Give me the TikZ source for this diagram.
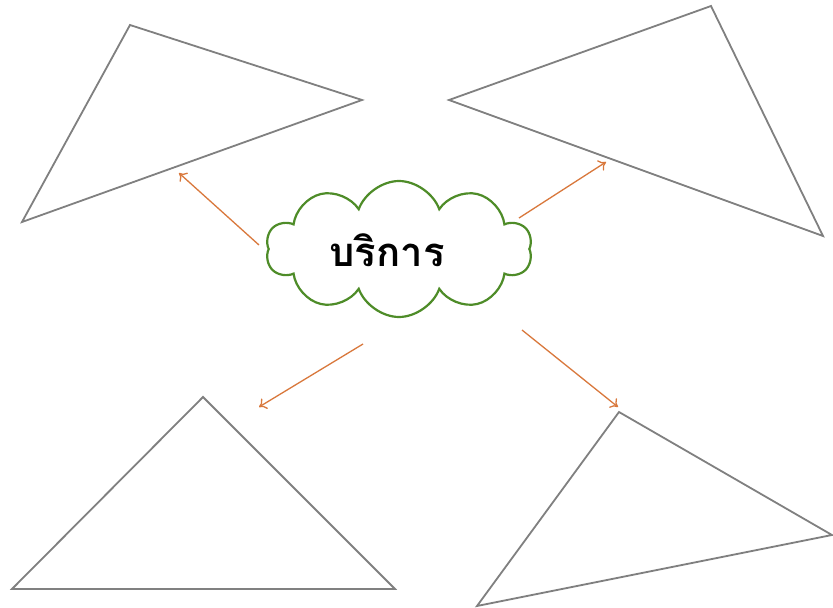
\documentclass[tikz,border=0pt]{standalone}
\usepackage{fontspec}
\newfontfamily\thaifont[Script=Thai]{Loma}
\usetikzlibrary{shapes.symbols}
\definecolor{tri}{RGB}{128,128,128}
\definecolor{arr}{RGB}{217,120,60}
\definecolor{cl}{RGB}{78,140,40}
\tikzset{
  tri/.style={draw=tri, line width=1.8pt, line join=miter},
  arrowline/.style={draw=arr, line width=1.3pt, -{To[length=7pt,width=12pt]}},
  cloudbox/.style={cloud, draw=cl, line width=2.2pt, cloud puffs=10, cloud puff arc=140, aspect=2, minimum width=266pt, minimum height=136pt, inner sep=0pt}
}
\usetikzlibrary{arrows.meta}
\begin{document}
\begin{tikzpicture}[x=1pt,y=-1pt]
\useasboundingbox (0,0) rectangle (833,608);
\fill[white] (0,0) rectangle (833,608);
% triangles
\draw[tri] (130,25) -- (362,100) -- (22,222) -- cycle;
\draw[tri] (449,100) -- (711,6) -- (823,236) -- cycle;
\draw[tri] (203,397) -- (395,589) -- (12,589) -- cycle;
\draw[tri] (619,412) -- (832,535) -- (477,606) -- cycle;
% cloud
\node[cloudbox] (c) at (399,249) {};
\node (t) at (387,250) {\thaifont\bfseries\fontsize{40}{48}\selectfont บริการ};
% arrow endpoints
\coordinate (s1) at (259,245); \coordinate (e1) at (179,173);
\coordinate (s2) at (519,218); \coordinate (e2) at (606,162);
\coordinate (s3) at (363,344); \coordinate (e3) at (259,407);
\coordinate (s4) at (522,330); \coordinate (e4) at (618,407);
\draw[arrowline] (s1) -- (e1);
\draw[arrowline] (s2) -- (e2);
\draw[arrowline] (s3) -- (e3);
\draw[arrowline] (s4) -- (e4);
\end{tikzpicture}
\end{document}
